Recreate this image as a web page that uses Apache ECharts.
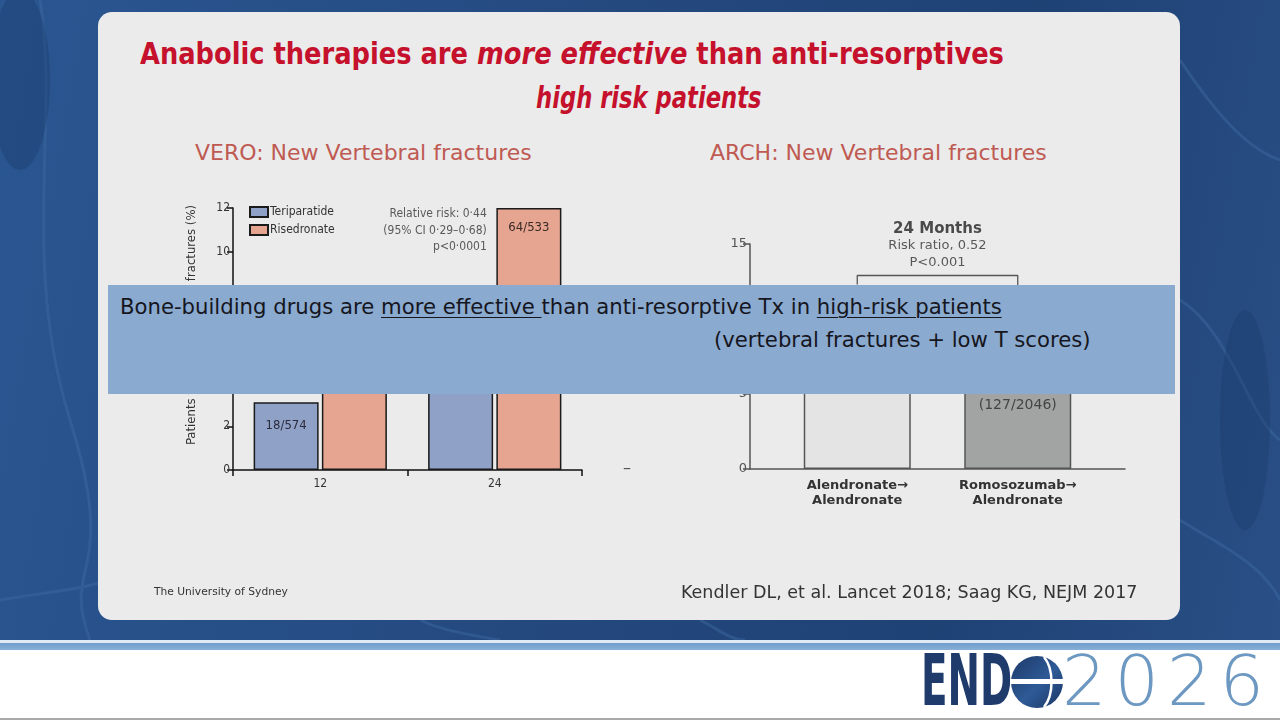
<!DOCTYPE html>
<html>
<head>
<meta charset="utf-8">
<script src="https://cdn.jsdelivr.net/npm/echarts@6/dist/echarts.min.js"></script>
<style>
body { margin: 0; width: 1280px; height: 720px; overflow: hidden; position: relative; background: #fff; }
.bg { position: absolute; left: 0; top: 0; width: 1280px; height: 640px;
      background: linear-gradient(100deg, #2a5691 0%, #24497f 45%, #1f4275 75%, #294f86 100%); }
.bg svg { position: absolute; left: 0; top: 0; }
.rule1 { position: absolute; left: 0; top: 640px; width: 1280px; height: 3px; background: #dfeaf5; }
.rule2 { position: absolute; left: 0; top: 643px; width: 1280px; height: 7px; background: linear-gradient(#6f9ccb, #88b0d8); }
.rule3 { position: absolute; left: 0; top: 718px; width: 1280px; height: 2px; background: #a9a9a9; }
.panel { position: absolute; left: 98px; top: 12px; width: 1082px; height: 608px; border-radius: 14px; background: #ebebeb; }
.title { position: absolute; font-family: 'DejaVu Sans Condensed', sans-serif; font-weight: bold;
         color: #c5112c; font-size: 30px; line-height: 34px; white-space: nowrap; transform-origin: left top; }
.sub { position: absolute; top: 140px; font-family: 'DejaVu Sans', sans-serif; font-size: 22px; color: #bf5a52; white-space: nowrap; }
#chart { position: absolute; left: 0; top: 0; width: 1280px; height: 720px; }
.band { position: absolute; left: 108px; top: 285px; width: 1067px; height: 109px; background: #8aaacf; z-index: 5;
        font-family: 'DejaVu Sans', sans-serif; font-size: 21.2px; color: #16161e; }
.band u { text-decoration-thickness: 1px; text-underline-offset: 3px; }
.l1 { position: absolute; left: 12px; top: 9px; white-space: nowrap; }
.l2 { position: absolute; left: 606px; top: 42px; white-space: nowrap; }
.dash { position: absolute; left: 623px; top: 458px; font-family: 'DejaVu Sans', sans-serif; font-size: 16px; color: #555; }
.foot1 { position: absolute; left: 154px; top: 585px; font-family: 'DejaVu Sans', sans-serif; font-size: 10.7px; color: #333; white-space: nowrap; }
.foot2 { position: absolute; left: 681px; top: 582px; font-family: 'DejaVu Sans', sans-serif; font-size: 17.5px; color: #333; white-space: nowrap; }
.logo-end { position: absolute; left: 921px; top: 644px; font-family: 'DejaVu Sans Condensed', sans-serif;
            font-weight: bold; font-size: 72px; line-height: 72px; color: #1f3b6c; transform-origin: left top; transform: scaleX(0.6); }
.logo-year { position: absolute; left: 1062px; top: 645px; font-family: 'DejaVu Sans', sans-serif; font-weight: 200;
             font-size: 70px; line-height: 72px; color: #6c98c1; letter-spacing: 8px; }
.globe { position: absolute; left: 1010px; top: 655px; }
</style>
</head>
<body>
<div class="bg">
  <svg width="1280" height="640" viewBox="0 0 1280 640">
    <g fill="none" stroke="#3b67a0" stroke-width="3" opacity="0.5">
      <path d="M0 600 C 60 590, 120 585, 98 575"/>
      <path d="M40 0 C 60 120, 20 260, 70 420 S 60 560, 90 640"/>
      <path d="M1180 60 C 1220 120, 1250 150, 1280 160"/>
      <path d="M1180 300 C 1230 330, 1250 420, 1280 440"/>
      <path d="M1180 520 C 1210 540, 1260 560, 1280 600"/>
      <path d="M420 620 C 440 630, 470 635, 500 640"/>
      <path d="M700 620 C 720 630, 730 640, 745 640"/>
    </g>
    <g fill="#1b3a68" opacity="0.35">
      <ellipse cx="20" cy="80" rx="30" ry="90"/>
      <ellipse cx="1245" cy="420" rx="25" ry="110"/>
    </g>
  </svg>
</div>
<div class="rule1"></div>
<div class="rule2"></div>
<div class="rule3"></div>

<div class="panel"></div>
<div class="title" style="left:140px; top:37px; transform:scaleX(0.953);">Anabolic therapies are <i>more effective</i> than anti-resorptives</div>
<div class="title" style="left:536px; top:81px; transform:scaleX(0.84);"><i>high risk patients</i></div>
<div class="sub" style="left:195px;">VERO: New Vertebral fractures</div>
<div class="sub" style="left:710px;">ARCH: New Vertebral fractures</div>

<div id="chart"></div>
<div class="dash">–</div>

<div class="band">
  <div class="l1">Bone-building drugs are <u>more effective </u>than anti-resorptive Tx in <u>high-risk patients</u></div>
  <div class="l2">(vertebral fractures + low T scores)</div>
</div>

<div class="foot1">The University of Sydney</div>
<div class="foot2">Kendler DL, et al. Lancet 2018; Saag KG, NEJM 2017</div>

<div class="logo-end">END</div>
<svg class="globe" width="54" height="54" viewBox="0 0 54 54">
  <defs>
    <linearGradient id="gl" x1="0" y1="0" x2="1" y2="1">
      <stop offset="0" stop-color="#1d3a6a"/>
      <stop offset="0.55" stop-color="#2e5a96"/>
      <stop offset="1" stop-color="#1a3563"/>
    </linearGradient>
  </defs>
  <circle cx="27" cy="27" r="26" fill="url(#gl)"/>
  <rect x="0" y="24" width="54" height="5" fill="#ffffff"/>
  <path d="M34 2 C 44 14, 44 40, 34 52" fill="none" stroke="#ffffff" stroke-width="2.5"/>
</svg>
<div class="logo-year">2026</div>

<script>
// VERO (left)
const veroCats = ['12', '24'];
const teriparatide = [3.1, 5.4];
const risedronate = [6.4, 12.0];
const teriLabels = ['18/574', '28/516'];
const riseLabels = ['37/575', '64/533'];
const veroNote = 'Relative risk: 0·44\n(95% CI 0·29–0·68)\np<0·0001';

// ARCH (right)
const archCats = ['Alendronate→\nAlendronate', 'Romosozumab→\nAlendronate'];
const archValues = [11.9, 6.2];
const archLabels = ['(243/2047)', '(127/2046)'];
const archColors = ['#e4e4e4', '#a2a4a4'];
const bracketTop = 12.9;
const bracketLegs = [12.3, 7.0];
const archNote = ['24 Months', 'Risk ratio, 0.52', 'P<0.001'];

const narrow = "'DejaVu Sans Condensed', sans-serif";
const dejavu = "'DejaVu Sans', sans-serif";

let mychart = echarts.init(document.getElementById('chart'), null, { renderer: 'canvas' });

mychart.setOption({
    backgroundColor: 'transparent',
    animation: false,
    legend: {
        left: 244, top: 201, orient: 'vertical', icon: 'rect',
        itemWidth: 18, itemHeight: 10, itemGap: 6,
        data: ['Teriparatide', 'Risedronate'],
        textStyle: { fontFamily: narrow, fontSize: 12, color: '#333', padding: [0, 0, 0, -3] }
    },
    grid: [
        { left: 233, right: 698, top: 208, bottom: 250 },   // VERO
        { left: 750, right: 155, top: 244, bottom: 251 },   // ARCH axes
        { left: 777, right: 182, top: 244, bottom: 251 }    // ARCH bars
    ],
    xAxis: [
        {
            gridIndex: 0, type: 'category', data: veroCats,
            axisLine: { lineStyle: { color: '#111', width: 1.5 } },
            axisTick: { show: true, length: 6, lineStyle: { color: '#111', width: 1.5 } },
            axisLabel: { fontFamily: narrow, fontSize: 12, color: '#333', margin: 8 }
        },
        {
            gridIndex: 1, type: 'value', min: 0, max: 1,
            axisLine: { show: true, lineStyle: { color: '#555', width: 1.5 } },
            axisTick: { show: false }, axisLabel: { show: false }, splitLine: { show: false }
        },
        {
            gridIndex: 2, type: 'category', data: archCats,
            axisLine: { show: false }, axisTick: { show: false },
            axisLabel: { fontFamily: dejavu, fontWeight: 'bold', fontSize: 13, lineHeight: 15, color: '#333', margin: 9 }
        }
    ],
    yAxis: [
        {
            gridIndex: 0, type: 'value', min: 0, max: 12, interval: 2,
            name: 'Patients with new vertebral fractures (%)', nameLocation: 'middle', nameGap: 35, nameRotate: 90,
            nameTextStyle: { fontFamily: narrow, fontSize: 13, color: '#333', padding: [0, 0, 0, 28] },
            axisLine: { show: true, lineStyle: { color: '#111', width: 1.5 } },
            axisTick: { show: true, length: 6, lineStyle: { color: '#111', width: 1.5 } },
            axisLabel: { fontFamily: narrow, fontSize: 12, color: '#333', margin: 3 },
            splitLine: { show: false }
        },
        {
            gridIndex: 1, type: 'value', min: 0, max: 15, interval: 5,
            axisLine: { show: true, lineStyle: { color: '#555', width: 1.5 } },
            axisTick: { show: true, length: 7, lineStyle: { color: '#555', width: 1.5 } },
            axisLabel: { fontFamily: dejavu, fontSize: 13, color: '#555', margin: 3 },
            splitLine: { show: false }
        },
        {
            gridIndex: 2, type: 'value', min: 0, max: 15, show: false
        }
    ],
    series: [
        {
            name: 'Teriparatide', type: 'bar', xAxisIndex: 0, yAxisIndex: 0,
            barWidth: 65, barGap: '5%',
            itemStyle: { color: '#8fa1c6', borderColor: '#1a1a1a', borderWidth: 1.5 },
            label: { show: true, position: 'insideTop', distance: 17, fontFamily: narrow, fontSize: 13, color: '#2b2b3d',
                     formatter: p => teriLabels[p.dataIndex] },
            data: teriparatide
        },
        {
            name: 'Risedronate', type: 'bar', xAxisIndex: 0, yAxisIndex: 0,
            barWidth: 65,
            itemStyle: { color: '#e5a590', borderColor: '#1a1a1a', borderWidth: 1.5 },
            label: { show: true, position: 'insideTop', distance: 13, fontFamily: narrow, fontSize: 13, color: '#3a2a28',
                     formatter: p => riseLabels[p.dataIndex] },
            data: risedronate
        },
        {
            type: 'scatter', xAxisIndex: 0, yAxisIndex: 0, symbolSize: 0, silent: true,
            label: { show: true, position: 'inside', align: 'right', verticalAlign: 'top', offset: [-8, -2],
                     fontFamily: narrow, fontSize: 12, lineHeight: 16.5, color: '#333', formatter: veroNote },
            data: [[veroCats[1], risedronate[1]]]
        },
        {
            type: 'bar', xAxisIndex: 2, yAxisIndex: 2, barWidth: 107,
            itemStyle: { borderColor: '#555', borderWidth: 1.5 },
            label: { show: true, position: 'insideTop', distance: 22, fontFamily: dejavu, fontSize: 14, color: '#444',
                     formatter: p => archLabels[p.dataIndex] },
            data: archValues.map((v, i) => ({ value: v, itemStyle: { color: archColors[i] } }))
        },
        {
            type: 'line', xAxisIndex: 2, yAxisIndex: 2, symbol: 'none', silent: true,
            lineStyle: { color: '#555', width: 1.3 },
            data: [[archCats[0], bracketLegs[0]], [archCats[0], bracketTop], [archCats[1], bracketTop], [archCats[1], bracketLegs[1]]]
        },
        {
            type: 'scatter', xAxisIndex: 1, yAxisIndex: 1, symbolSize: 0, silent: true,
            label: {
                show: true, position: 'top', distance: 4,
                formatter: '{a|' + archNote[0] + '}\n{b|' + archNote[1] + '}\n{b|' + archNote[2] + '}',
                rich: {
                    a: { fontFamily: dejavu, fontWeight: 'bold', fontSize: 15, lineHeight: 17, color: '#222' },
                    b: { fontFamily: dejavu, fontSize: 13, lineHeight: 17, color: '#333' }
                }
            },
            data: [[0.5, bracketTop]]
        }
    ]
});
</script>
</body>
</html>
